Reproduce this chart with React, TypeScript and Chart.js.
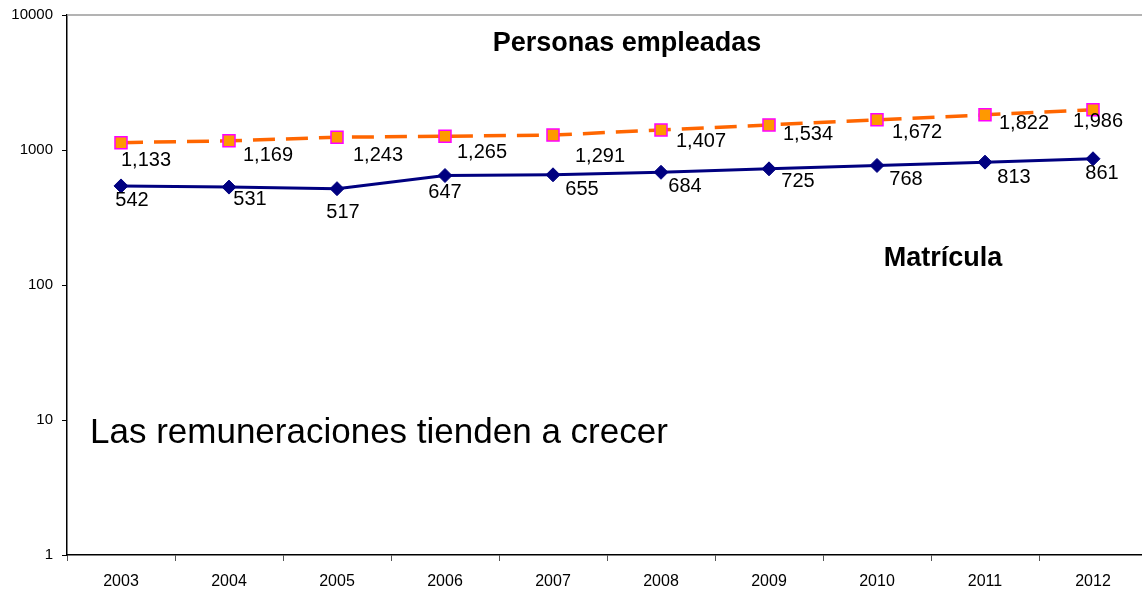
import React, { useEffect, useRef } from "react";
import { Chart, registerables } from "chart.js";

Chart.register(...registerables);

const years = ["2003", "2004", "2005", "2006", "2007", "2008", "2009", "2010", "2011", "2012"];
const personasEmpleadas = [1133, 1169, 1243, 1265, 1291, 1407, 1534, 1672, 1822, 1986];
const matricula = [542, 531, 517, 647, 655, 684, 725, 768, 813, 861];
const yTickValues = [1, 10, 100, 1000, 10000];

// label offsets (label centre relative to the point), in px
const personasLabelOffsets = [[25, 18], [39, 15], [41, 18], [37, 16], [47, 21], [40, 12], [39, 10], [40, 13], [39, 9], [5, 12]];
const matriculaLabelOffsets = [[11, 15], [21, 12], [6, 24], [0, 17], [29, 15], [24, 14], [29, 13], [29, 14], [29, 15], [9, 15]];

const FONT = '"Liberation Sans", Arial, sans-serif';

const overlayPlugin = {
  id: "overlay",
  afterDatasetsDraw(chart: any) {
    const ctx = chart.ctx;
    const area = chart.chartArea;
    ctx.save();
    // top border
    ctx.strokeStyle = "#9a9a9a";
    ctx.lineWidth = 1.5;
    ctx.beginPath();
    ctx.moveTo(area.left, area.top);
    ctx.lineTo(area.right, area.top);
    ctx.stroke();

    // data labels
    ctx.fillStyle = "#000";
    ctx.font = `20px ${FONT}`;
    ctx.textAlign = "center";
    ctx.textBaseline = "middle";
    const offsets = [personasLabelOffsets, matriculaLabelOffsets];
    chart.data.datasets.forEach((ds: any, di: number) => {
      const meta = chart.getDatasetMeta(di);
      meta.data.forEach((pt: any, i: number) => {
        const v = ds.data[i] as number;
        const [dx, dy] = offsets[di][i];
        ctx.fillText(v.toLocaleString("en-US"), pt.x + dx, pt.y + dy);
      });
    });

    // annotations
    ctx.textAlign = "center";
    ctx.textBaseline = "alphabetic";
    ctx.font = `bold 27px ${FONT}`;
    ctx.fillText("Personas empleadas", 627, 51);
    ctx.fillText("Matrícula", 943, 266);
    ctx.textAlign = "left";
    ctx.font = `35px ${FONT}`;
    ctx.fillText("Las remuneraciones tienden a crecer", 90, 443);
    ctx.restore();
  },
};

export default function App() {
  const ref = useRef<HTMLCanvasElement | null>(null);
  useEffect(() => {
    document.body.style.margin = "0";
    const canvas = ref.current!;
    const chart = new Chart(canvas, {
      type: "line",
      data: {
        labels: years,
        datasets: [
          {
            label: "Personas empleadas",
            data: personasEmpleadas,
            borderColor: "#FF6600",
            borderWidth: 3.5,
            borderDash: [22, 11],
            pointStyle: "rect",
            pointRadius: 8.5,
            pointBackgroundColor: "#FF9900",
            pointBorderColor: "#FF00FF",
            pointBorderWidth: 1.5,
            tension: 0,
            fill: false,
          },
          {
            label: "Matrícula",
            data: matricula,
            borderColor: "#000080",
            borderWidth: 3,
            pointStyle: "rectRot",
            pointRadius: 7,
            pointBackgroundColor: "#000080",
            pointBorderColor: "#000080",
            pointBorderWidth: 1,
            tension: 0,
            fill: false,
          },
        ],
      },
      options: {
        animation: false,
        responsive: false,
        maintainAspectRatio: false,
        layout: { padding: { top: 15, right: 0, left: 0, bottom: 0 } },
        plugins: {
          legend: { display: false },
          tooltip: { enabled: false },
          title: { display: false },
        },
        scales: {
          x: {
            type: "category",
            offset: true,
            grid: {
              offset: true,
              drawOnChartArea: false,
              drawTicks: true,
              tickLength: 6,
              color: "#555",
            },
            border: { display: true, color: "#000", width: 1.5 },
            ticks: {
              color: "#000",
              font: { family: FONT, size: 16 },
              padding: 11,
              maxRotation: 0,
              autoSkip: false,
            },
            afterFit(scale: any) {
              scale.height = 34;
            },
          },
          y: {
            type: "logarithmic",
            min: 1,
            max: 10000,
            grid: {
              drawOnChartArea: false,
              drawTicks: true,
              tickLength: 5,
              color: "#000",
            },
            border: { display: true, color: "#000", width: 1.5 },
            ticks: {
              color: "#000",
              font: { family: FONT, size: 15 },
              padding: 9,
              callback: (v: any) => String(v),
            },
            afterBuildTicks(scale: any) {
              scale.ticks = yTickValues.map((v) => ({ value: v }));
            },
            afterFit(scale: any) {
              scale.width = 67;
              scale.paddingTop = 0;
              scale.paddingBottom = 0;
            },
          },
        },
      },
      plugins: [overlayPlugin],
    });
    return () => chart.destroy();
  }, []);
  return (
    <div style={{ width: 1142, height: 589, overflow: "hidden", background: "#fff" }}>
      <canvas ref={ref} width={1157} height={589} style={{ display: "block", width: 1157, height: 589 }} />
    </div>
  );
}
